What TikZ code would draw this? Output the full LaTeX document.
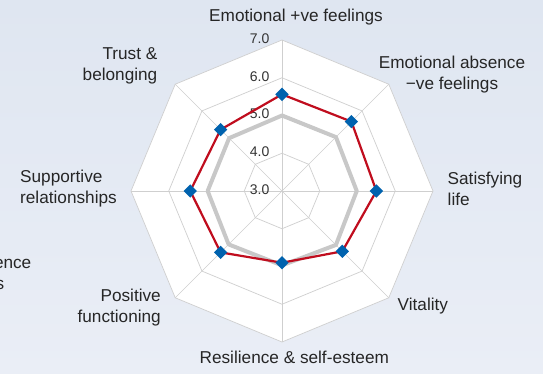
\documentclass[tikz,border=0pt]{standalone}
\usepackage{fontspec}
\setmainfont{Liberation Sans}
\usetikzlibrary{positioning, shapes.geometric}

\definecolor{bgtop}{HTML}{DFE6F1}
\definecolor{bgbot}{HTML}{EAEEF6}
\definecolor{gridgray}{HTML}{CFCFCF}
\definecolor{avggray}{HTML}{C8C8C8}
\definecolor{scorered}{HTML}{C00D1E}
\definecolor{markerblue}{HTML}{0062AE}

\begin{document}
\begin{tikzpicture}[
            x=1pt, y=-1pt, % pixel-like units, y pointing down
            ring/.style={draw=gridgray, line width=0.7pt},
            spoke/.style={draw=gridgray, line width=0.7pt},
            avgline/.style={draw=avggray, line width=4pt, line join=round},
            scoreline/.style={draw=scorered, line width=2.2pt, line join=round},
            marker/.style={diamond, fill=markerblue, inner sep=0pt, minimum size=13.5pt},
            axislabel/.style={font=\fontsize{17.2}{21}\selectfont, text=black!85, inner sep=0pt},
            ticklabel/.style={font=\fontsize{14}{16}\selectfont, text=black!80, anchor=east, inner sep=0pt}
        ]

        % Background
        \shade[top color=bgtop, bottom color=bgbot] (0,0) rectangle (543,374);
        \useasboundingbox (0,0) rectangle (543,374);

        \begin{scope}[shift={(282,191)}]
        % Plot area and grid
        \fill[white] (-90:151) \foreach \k in {1,...,7}{ -- (-90+45*\k:151)} -- cycle;
        \foreach \r in {37.75, 75.5, 113.25, 151}
            \draw[ring] (-90:\r) \foreach \k in {1,...,7}{ -- (-90+45*\k:\r)} -- cycle;
        \foreach \k in {0,...,7}
            \draw[spoke] (0,0) -- (-90+45*\k:151);

        % Scale
        \foreach \v [count=\i from 0] in {3.0,4.0,5.0,6.0,7.0}
            \node[ticklabel] (tick\i) at (-12.5, {-\i*37.75-1.5}) {\v};

        % Data
        \foreach \v [count=\k from 0] in {5.0,5.02,4.98,5.02,4.97,5.0,4.97,4.98}
            \coordinate (a\k) at (-90+45*\k:{(\v-3)*37.75});
        \foreach \v [count=\k from 0] in {5.56,5.6,5.5,5.26,4.9,5.3,5.43,5.3}
            \coordinate (s\k) at (-90+45*\k:{(\v-3)*37.75});

        \draw[avgline] (a0) -- (a1) -- (a2) -- (a3) -- (a4) -- (a5) -- (a6) -- (a7) -- cycle;
        \draw[scoreline] (s0) -- (s1) -- (s2) -- (s3) -- (s4) -- (s5) -- (s6) -- (s7) -- cycle;
        \foreach \k in {0,...,7}
            \node[marker] (m\k) at (s\k) {};
        \end{scope}

        % Labels
        \node[axislabel] (emopos) at (296,17) {Emotional +ve feelings};
        \node[axislabel, align=center] (emoneg) at (452,74.5) {Emotional absence\\−ve feelings};
        \node[axislabel, align=left, anchor=west] (satlife) at (447.5,189) {Satisfying\\life};
        \node[axislabel, anchor=west] (vital) at (397.5,306) {Vitality};
        \node[axislabel] (resil) at (294.3,357.3) {Resilience \& self-esteem};
        \node[axislabel, align=right, anchor=east] (posfun) at (161,307.5) {Positive\\functioning};
        \node[axislabel, align=left, anchor=west] (suprel) at (20,189) {Supportive\\relationships};
        \node[axislabel, align=right, anchor=east] (trust) at (157.5,65.5) {Trust \&\\belonging};
        \node[axislabel, anchor=east] (cutA) at (31.5,264) {ence};
        \node[axislabel, anchor=east] (cutB) at (4.5,285) {s};

        \end{tikzpicture}
\end{document}
